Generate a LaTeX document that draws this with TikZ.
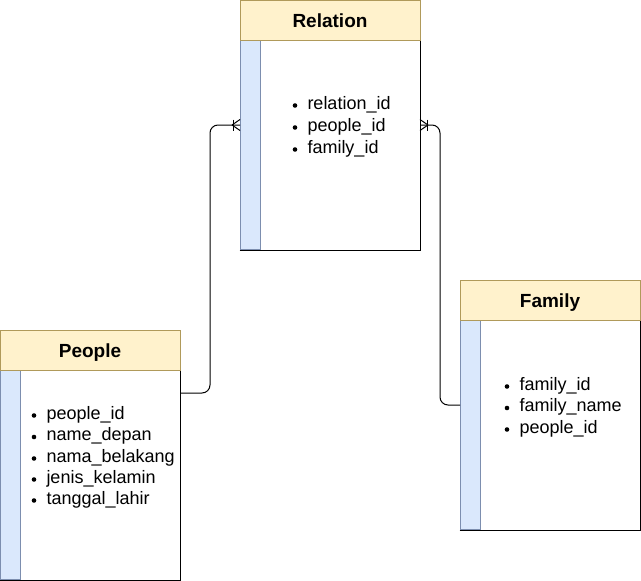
\documentclass[tikz,border=0pt]{standalone}
\usepackage{fontspec}
\setmainfont{Liberation Sans}
\definecolor{headfill}{HTML}{FFF2CC}
\definecolor{headline}{HTML}{B09A5A}
\definecolor{stripfill}{HTML}{DAE8FC}
\definecolor{stripline}{HTML}{7C8EAF}
\begin{document}
\begin{tikzpicture}[x=1pt,y=-1pt,line width=1pt,
  tbody/.style={draw=black,fill=white,minimum width=180pt,minimum height=250pt,inner sep=0pt},
  thead/.style={draw=headline,fill=headfill,minimum width=180pt,minimum height=40pt,inner sep=0pt,
     text height=14pt,text depth=0pt,
     font=\fontsize{19}{22}\selectfont\bfseries},
  stripbox/.style={fill=stripfill,draw=stripline},
  item/.style={anchor=base west,inner sep=0pt,font=\fontsize{18}{21}\selectfont},
  dot/.style={fill=black},
  conn/.style={draw=black,line width=1pt,rounded corners=8pt},
  foot/.style={draw=black,line width=1pt}
]
\useasboundingbox (0,0) rectangle (641,581);

% ---------- Relation ----------
\node[tbody] (relation) at (330,125) {};
\fill[stripbox] (240.5,40) rectangle (260,249.5);
\draw[black] (relation.south west) -- (relation.south east) -- (relation.north east);
\node[thead] (relationh) at (330,20) {Relation};
\foreach \t/\y in {relation\_id/109, people\_id/131, family\_id/153}{
  \fill[dot] (295,\y-3.5) circle (2.3pt);
  \node[item] at (307,\y) {\t};
}

% ---------- Family ----------
\node[tbody] (family) at (550,405) {};
\fill[stripbox] (460.5,320) rectangle (480,529.5);
\draw[black] (family.south west) -- (family.south east) -- (family.north east);
\node[thead] (familyh) at (550,300) {Family};
\foreach \t/\y in {family\_id/390, family\_name/411.5, people\_id/433}{
  \fill[dot] (507,\y-3.5) circle (2.3pt);
  \node[item] at (519,\y) {\t};
}

% ---------- People ----------
\node[tbody] (people) at (90,455) {};
\fill[stripbox] (0.5,370) rectangle (20,579.5);
\draw[black] (people.south west) -- (people.south east) -- (people.north east);
\node[thead] (peopleh) at (90,350) {People};
\foreach \t/\y in {people\_id/419, name\_depan/440.5, nama\_belakang/462, jenis\_kelamin/483, tanggal\_lahir/504}{
  \fill[dot] (34,\y-3.5) circle (2.3pt);
  \node[item] at (46,\y) {\t};
}

% ---------- connectors ----------
\coordinate (pout) at (180,393);
\coordinate (rinl) at (240,125);
\coordinate (fout) at (460,405);
\coordinate (rinr) at (420,125);

\draw[conn] (pout) -- (210,393) -- (210,125) -- (rinl);
\draw[conn] (fout) -- (440,405) -- (440,125) -- (rinr);

% crow's feet (one or many)
\draw[foot] (233,119.5) -- (233,130.5);
\draw[foot] (232,125) -- (240,119.5) (232,125) -- (240,130.5);
\draw[foot] (427,119.5) -- (427,130.5);
\draw[foot] (428,125) -- (420,119.5) (428,125) -- (420,130.5);
\end{tikzpicture}
\end{document}
